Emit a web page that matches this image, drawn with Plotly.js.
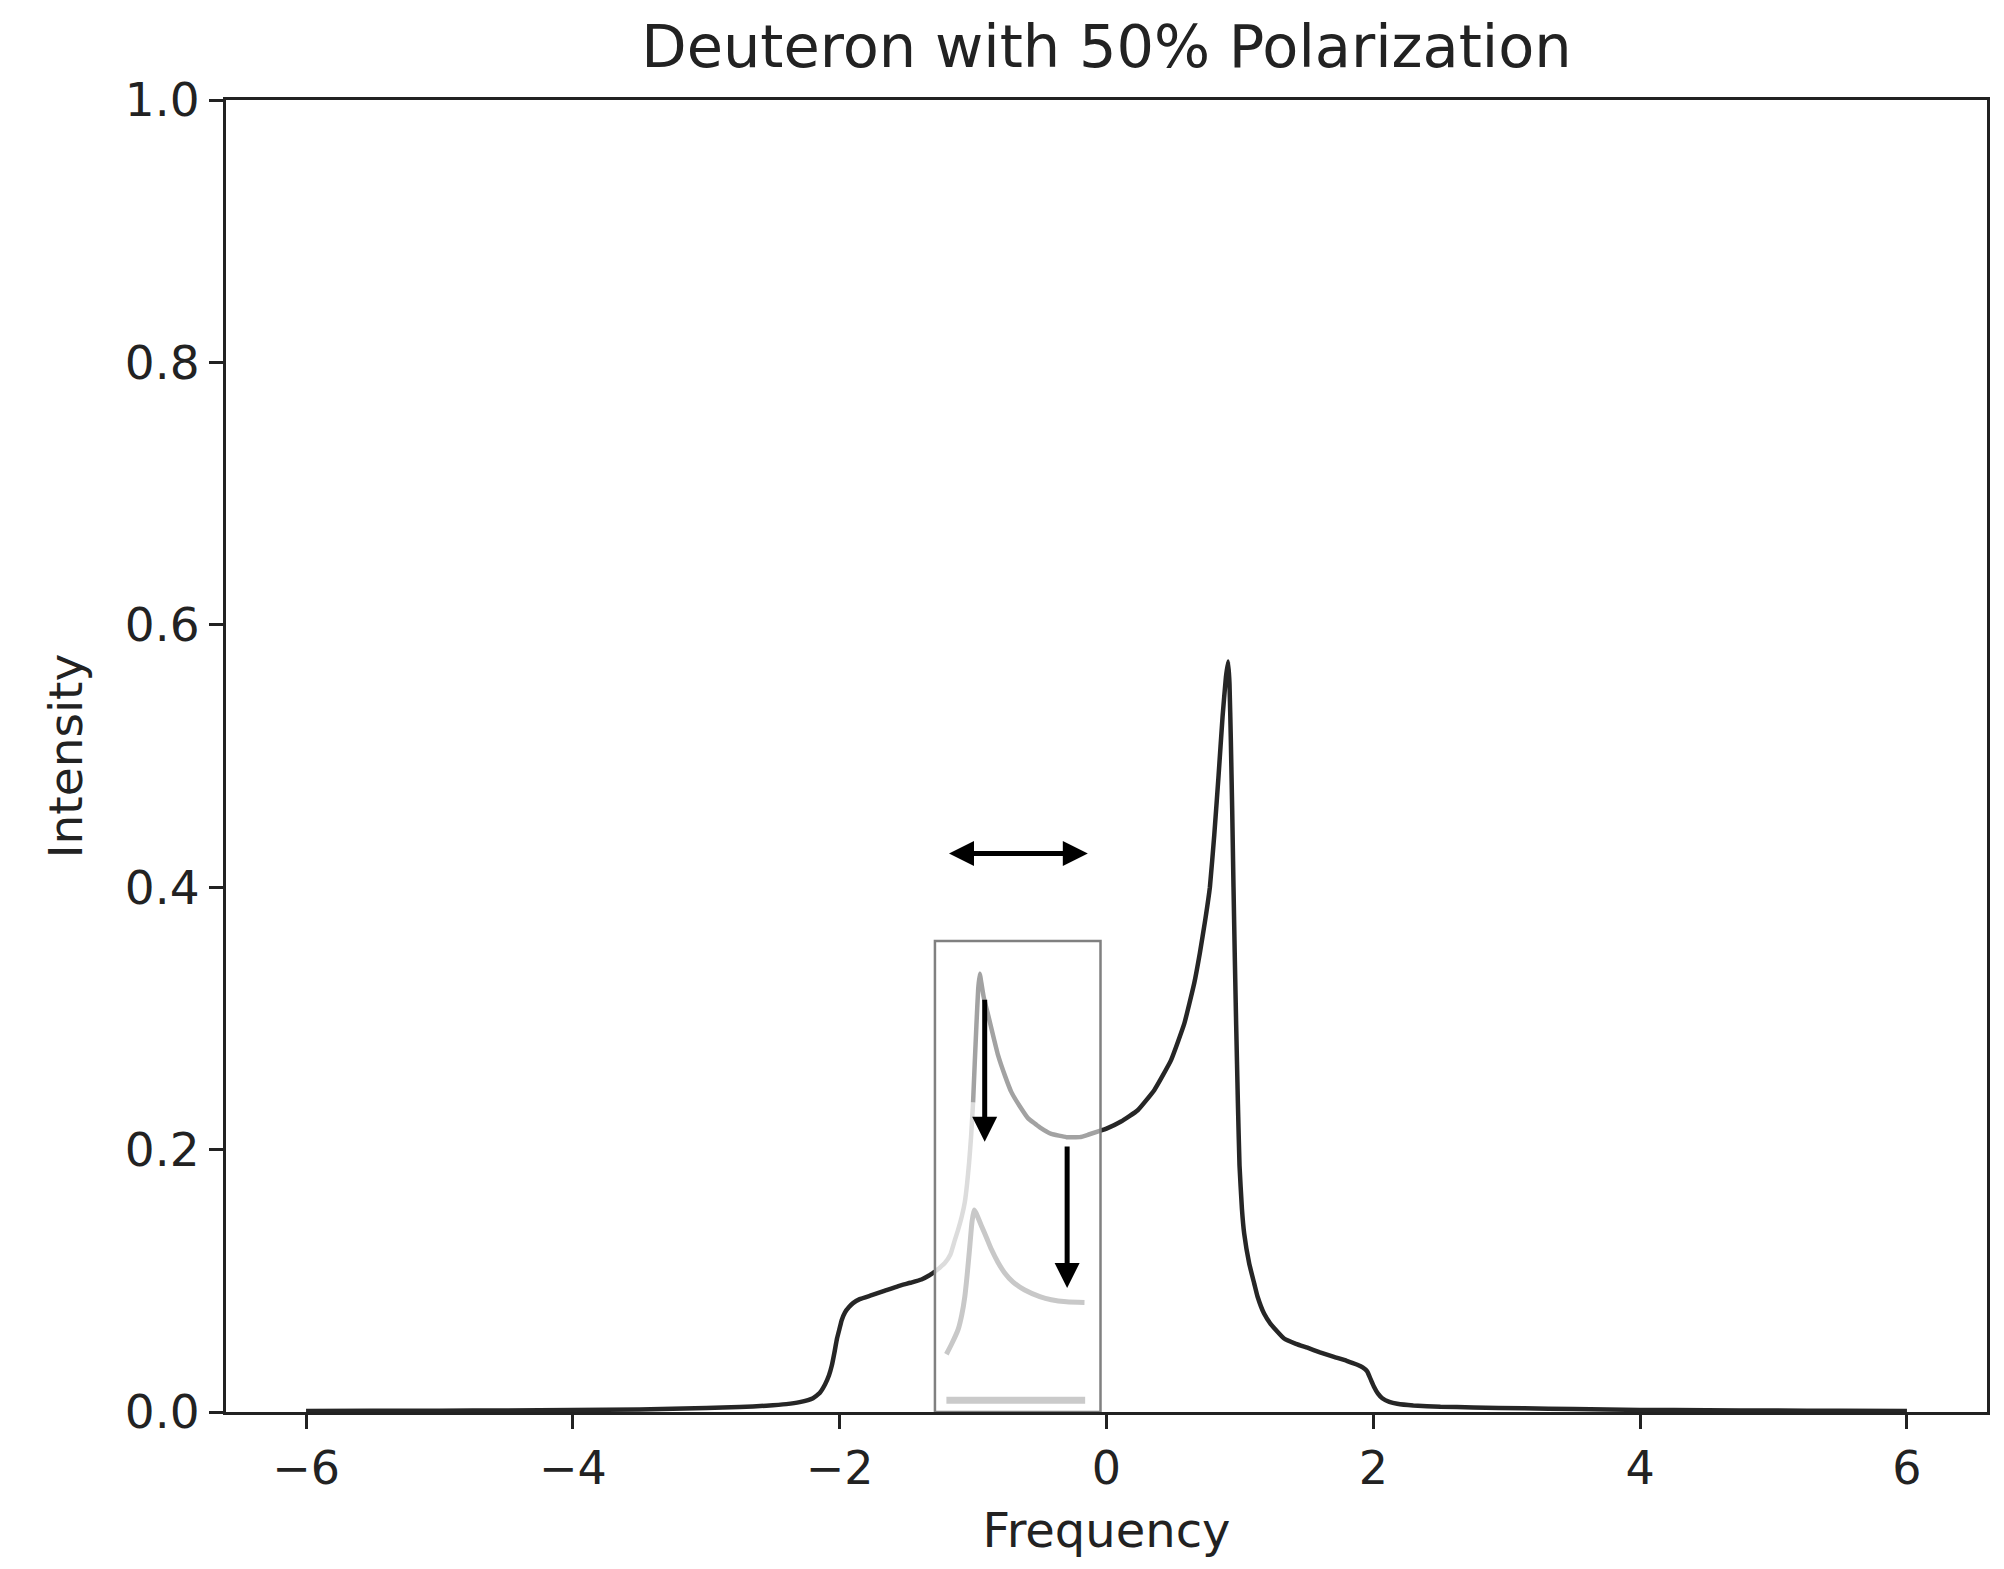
<!DOCTYPE html>
<html>
<head>
<meta charset="utf-8">
<script src="https://cdn.plot.ly/plotly-3.0.1.min.js"></script>
<style>html,body{margin:0;padding:0;background:#fff;}#chart{width:2004px;height:1569px;}</style>
</head>
<body>
<div id="chart"></div>
<script>
// Main spectrum (frequency, intensity)
const freq = [-6.0,-5.5,-5.0,-4.5,-4.0,-3.5,-3.0,-2.75,-2.55,-2.4,-2.3,-2.2,-2.15,-2.11,-2.08,-2.06,-2.04,-2.02,-2.0,-1.985,-1.96,-1.93,-1.9,-1.85,-1.76,-1.66,-1.56,-1.47,-1.387,-1.33,-1.286,-1.25,-1.212,-1.17,-1.137,-1.112,-1.085,-1.062,-1.045,-1.03,-1.015,-1.0,-0.988,-0.975,-0.962,-0.95,-0.938,-0.92,-0.888,-0.85,-0.813,-0.76,-0.714,-0.65,-0.589,-0.5,-0.414,-0.3,-0.2,-0.139,-0.045,0.0,0.109,0.234,0.359,0.483,0.583,0.658,0.70,0.74,0.775,0.808,0.84,0.87,0.895,0.912,0.922,0.932,0.942,0.952,0.962,0.972,0.985,0.997,1.015,1.032,1.07,1.107,1.132,1.181,1.231,1.331,1.42,1.506,1.6,1.705,1.8,1.88,1.92,1.954,1.98,2.004,2.035,2.067,2.12,2.179,2.3,2.503,2.75,3.126,3.5,4.0,4.5,5.0,5.5,6.0];
const intensity = [0.0008,0.0009,0.0010,0.0012,0.0015,0.0020,0.0030,0.0038,0.0048,0.0060,0.0075,0.0105,0.0145,0.021,0.028,0.035,0.045,0.056,0.064,0.070,0.076,0.080,0.083,0.086,0.089,0.0925,0.096,0.0985,0.101,0.104,0.107,0.110,0.1135,0.120,0.131,0.139,0.149,0.160,0.174,0.190,0.210,0.236,0.265,0.295,0.322,0.334,0.327,0.316,0.303,0.287,0.272,0.256,0.244,0.233,0.224,0.217,0.212,0.2095,0.2095,0.2113,0.2145,0.216,0.2214,0.230,0.2455,0.268,0.296,0.327,0.350,0.375,0.400,0.440,0.485,0.530,0.560,0.572,0.555,0.512,0.46,0.40,0.345,0.295,0.235,0.188,0.155,0.136,0.113,0.098,0.088,0.075,0.067,0.056,0.052,0.049,0.0455,0.042,0.039,0.036,0.034,0.031,0.025,0.0195,0.014,0.0105,0.0078,0.0063,0.005,0.004,0.0035,0.0028,0.0022,0.0016,0.0013,0.0011,0.0009,0.0008];

// Lowered (burned) spectrum portion inside the box
const dipFreq = [-1.2,-1.16,-1.112,-1.085,-1.062,-1.045,-1.025,-1.008,-0.992,-0.975,-0.938,-0.9,-0.863,-0.813,-0.763,-0.7,-0.613,-0.5,-0.414,-0.3,-0.165];
const dipIntensity = [0.044,0.052,0.063,0.074,0.088,0.104,0.126,0.145,0.154,0.151,0.142,0.133,0.124,0.114,0.106,0.099,0.093,0.088,0.0856,0.084,0.0835];

// Flat baseline inside the box
const floorFreq = [-1.2, -0.16];
const floorIntensity = [0.009, 0.009];

// Box region and segment boundaries (frequency)
const boxFreq = [-1.286, -0.045];
const boxIntensity = [0, 0.359];
const flankFreq = -1.0;

// Arrows: [tailX, tailY, tipX, tipY]
const arrowDown1 = [-0.913, 0.3154, -0.913, 0.206];
const arrowDown2 = [-0.295, 0.2036, -0.295, 0.0945];
const arrowBoth = [-1.192, 0.4256, -0.14, 0.4256];

// Axis ticks
const xTickVals = [-6, -4, -2, 0, 2, 4, 6];
const xTickText = ['\u22126', '\u22124', '\u22122', '0', '2', '4', '6'];
const yTickVals = [0, 0.2, 0.4, 0.6, 0.8, 1.0];
const yTickText = ['0.0', '0.2', '0.4', '0.6', '0.8', '1.0'];

function segment(lo, hi) {
  const xs = [], ys = [];
  freq.forEach((f, i) => { if (f >= lo && f <= hi) { xs.push(f); ys.push(intensity[i]); } });
  return [xs, ys];
}
const segLeft = segment(-Infinity, boxFreq[0]);
const segFlank = segment(boxFreq[0], flankFreq);
const segPeak = segment(flankFreq, boxFreq[1]);
const segRight = segment(boxFreq[1], Infinity);

const DARK = '#262626';
const SM = 0.35;
const traces = [
  {x: floorFreq, y: floorIntensity, mode: 'lines', line: {color: '#cacaca', width: 7}, hoverinfo: 'skip'},
  {x: dipFreq, y: dipIntensity, mode: 'lines', line: {color: '#c8c8c8', width: 5, shape: 'spline', smoothing: 0.6}, hoverinfo: 'skip'},
  {x: segFlank[0], y: segFlank[1], mode: 'lines', line: {color: '#dcdcdc', width: 4.5, shape: 'spline', smoothing: SM}, hoverinfo: 'skip'},
  {x: segPeak[0], y: segPeak[1], mode: 'lines', line: {color: '#a2a2a2', width: 4.5, shape: 'spline', smoothing: SM}, hoverinfo: 'skip'},
  {x: segLeft[0], y: segLeft[1], mode: 'lines', line: {color: DARK, width: 4.5, shape: 'spline', smoothing: SM}, hoverinfo: 'skip'},
  {x: segRight[0], y: segRight[1], mode: 'lines', line: {color: DARK, width: 4.5, shape: 'spline', smoothing: SM}, hoverinfo: 'skip'}
];

function arrow(a, both) {
  const o = {x: a[2], y: a[3], ax: a[0], ay: a[1], xref: 'x', yref: 'y', axref: 'x', ayref: 'y',
    text: '', showarrow: true, arrowhead: 2, arrowsize: 1, arrowwidth: 5, arrowcolor: '#000', standoff: 0, startstandoff: 0};
  if (both) { o.arrowside = 'end+start'; o.startarrowhead = 2; o.startarrowsize = 1; }
  return o;
}

const FONT = 'DejaVu Sans, Liberation Sans, sans-serif';
const layout = {
  width: 2004, height: 1569,
  margin: {l: 226, r: 17, t: 100, b: 157, pad: 0},
  paper_bgcolor: '#fff', plot_bgcolor: '#fff',
  showlegend: false,
  font: {family: FONT, color: '#222', size: 46},
  title: {text: 'Deuteron with 50% Polarization', font: {family: FONT, size: 59, color: '#222'},
    x: 0.5, xref: 'paper', xanchor: 'center', y: 1 - 46/1569, yref: 'container', yanchor: 'middle'},
  xaxis: {range: [-6.6, 6.6], tickvals: xTickVals, ticktext: xTickText, ticks: 'outside', ticklen: 14, tickwidth: 3,
    tickcolor: '#222', showline: true, linecolor: '#222', linewidth: 3, mirror: true, showgrid: false, zeroline: false,
    tickfont: {family: FONT, size: 46, color: '#222'},
    title: {text: 'Frequency', font: {family: FONT, size: 48, color: '#222'}, standoff: 20}},
  yaxis: {range: [0, 1], tickvals: yTickVals, ticktext: yTickText, ticks: 'outside', ticklen: 14, tickwidth: 3,
    tickcolor: '#222', showline: true, linecolor: '#222', linewidth: 3, mirror: true, showgrid: false, zeroline: false,
    tickfont: {family: FONT, size: 47, color: '#222'},
    title: {text: 'Intensity', font: {family: FONT, size: 47, color: '#222'}, standoff: 28}},
  shapes: [{type: 'rect', xref: 'x', yref: 'y', x0: boxFreq[0], x1: boxFreq[1], y0: boxIntensity[0], y1: boxIntensity[1],
    line: {color: '#808080', width: 2.5}, fillcolor: 'rgba(0,0,0,0)', layer: 'above'}],
  annotations: [arrow(arrowDown1, false), arrow(arrowDown2, false), arrow(arrowBoth, true)]
};

Plotly.newPlot('chart', traces, layout, {staticPlot: true, displayModeBar: false});
</script>
</body>
</html>
